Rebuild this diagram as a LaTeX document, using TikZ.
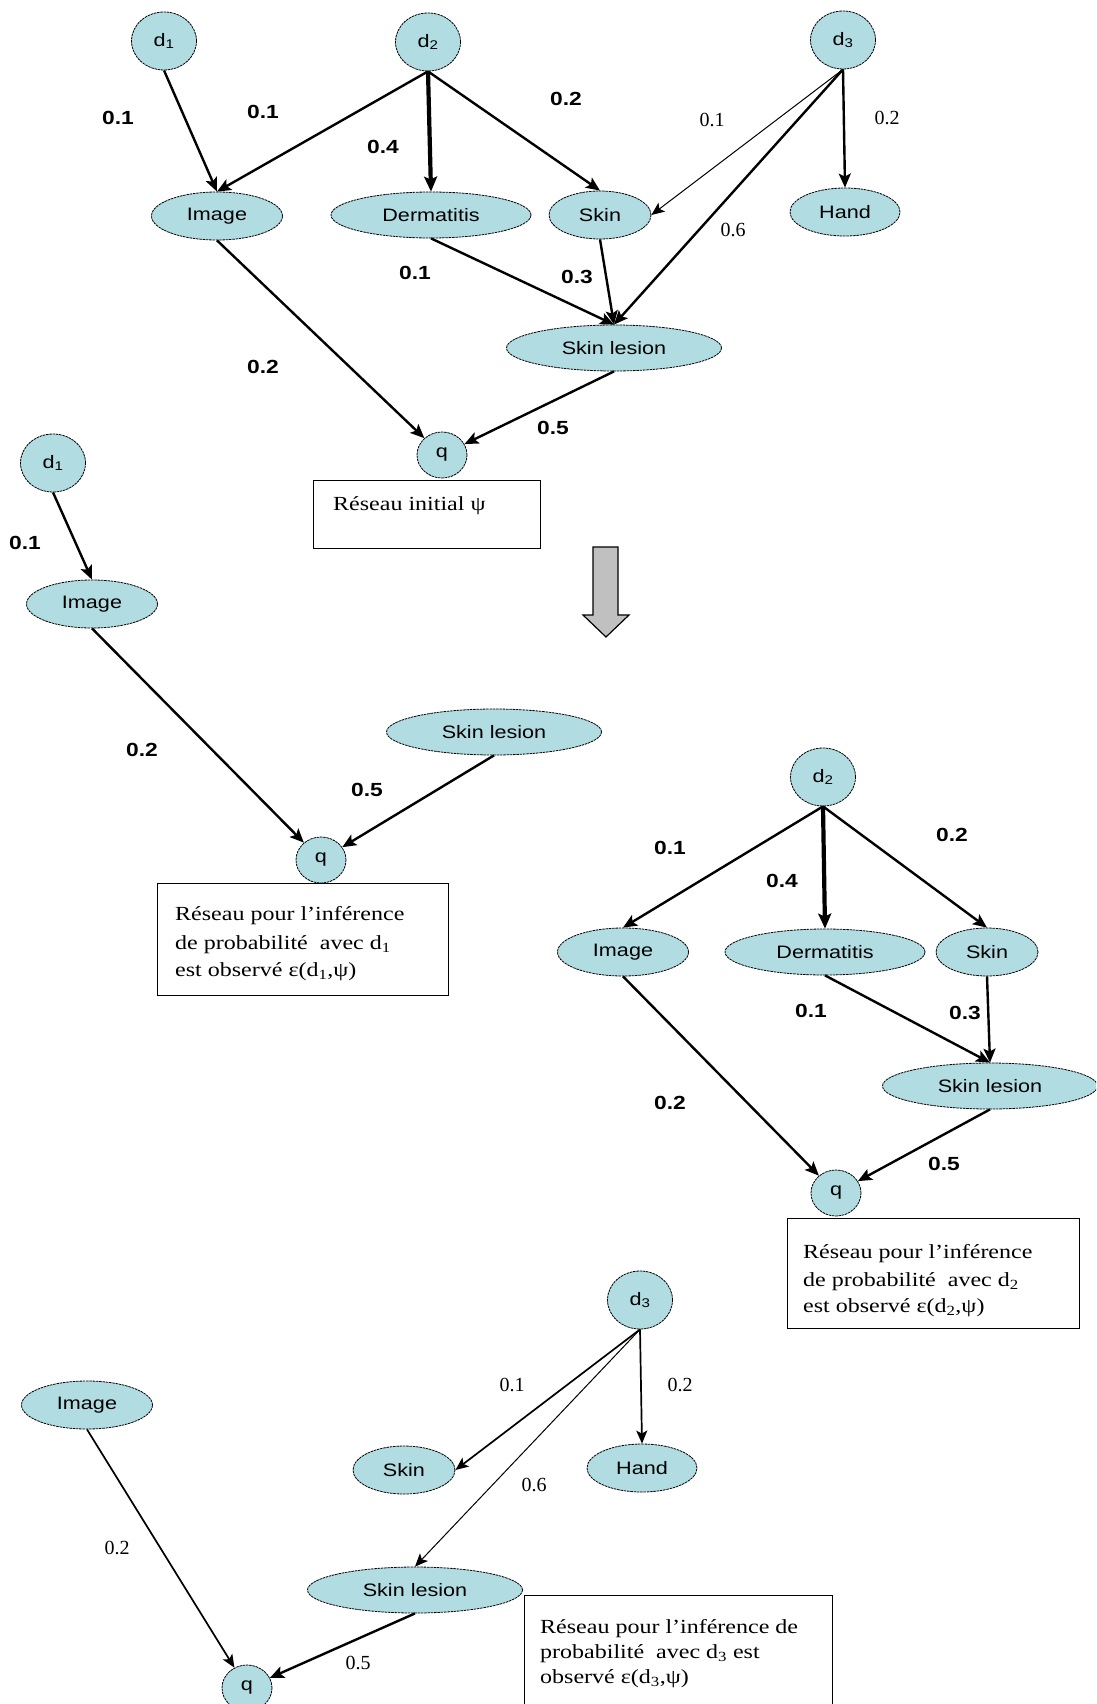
\documentclass[tikz,border=0pt]{standalone}
\usepackage{fontspec}
\setmainfont{Liberation Serif}
\setsansfont{Liberation Sans}
\newfontfamily\nodefont[FakeStretch=1.2]{Liberation Sans}
\newfontfamily\boxfont[FakeStretch=1.2]{Liberation Serif}
\newfontfamily\serlabfont{Liberation Serif}
\usetikzlibrary{shapes.geometric,arrows.meta}
\definecolor{nodefill}{RGB}{176,220,226}
\definecolor{arrowgrey}{RGB}{192,192,192}
\tikzset{
 nd/.style={ellipse, draw=black, line width=0.8pt, dash pattern=on 2.5pt off 0.8pt, fill=nodefill, inner sep=0pt, font=\nodefont\fontsize{18}{20}\selectfont},
 dnode/.style={nd, minimum width=65, minimum height=58},
 qnode/.style={nd, minimum width=50, minimum height=46},
 imgnode/.style={nd, minimum width=131, minimum height=48},
 dermnode/.style={nd, minimum width=200, minimum height=46},
 skinnode/.style={nd, minimum width=102, minimum height=48},
 handnode/.style={nd, minimum width=110, minimum height=48},
 slnode/.style={nd, minimum width=215, minimum height=46},
 lab/.style={font=\nodefont\bfseries\fontsize{19}{21}\selectfont, inner sep=0pt},
 slab/.style={font=\serlabfont\fontsize{20}{22}\selectfont, inner sep=0pt},
 ar/.style={-{Stealth[length=14pt,width=12pt,inset=3pt]}, line width=2.4pt},
 arthick/.style={-{Stealth[length=15pt,width=13pt,inset=3pt]}, line width=4.2pt},
 arthin/.style={-{Stealth[length=13pt,width=11pt,inset=3pt]}, line width=1pt},
 armid/.style={-{Stealth[length=13pt,width=11pt,inset=3pt]}, line width=1.7pt},
 boxr/.style={draw=black, line width=1.2pt, fill=white, inner sep=0pt, anchor=north west},
 btext/.style={font=\boxfont\fontsize{20}{24}\selectfont, inner sep=0pt, anchor=west, text height=14pt, text depth=4pt},
}
\begin{document}
\begin{tikzpicture}[x=1pt,y=-1pt]
\useasboundingbox (0,0) rectangle (1096,1704);
\fill[white] (0,0) rectangle (1096,1704);
\clip (0,0) rectangle (1096,1704);

% ---------- boxes (drawn first) ----------
\node[boxr, minimum width=227, minimum height=68] (box1) at (313,480) {};
\node[boxr, minimum width=291, minimum height=112] (box2) at (157,883) {};
\node[boxr, minimum width=292, minimum height=110] (box3) at (787,1218) {};
\node[boxr, minimum width=308, minimum height=140] (box4) at (524,1595) {};

\node[btext] (bt1) at (333,505) {Réseau initial ψ};

\node[btext] (bt2a) at (175,915) {Réseau pour l’inférence};
\node[btext] (bt2b) at (175,944) {de probabilité~ avec d\textsubscript{1}};
\node[btext] (bt2c) at (175,971) {est observé ε(d\textsubscript{1},ψ)};

\node[btext] (bt3a) at (803,1253) {Réseau pour l’inférence};
\node[btext] (bt3b) at (803,1281) {de probabilité~ avec d\textsubscript{2}};
\node[btext] (bt3c) at (803,1307) {est observé ε(d\textsubscript{2},ψ)};

\node[btext] (bt4a) at (540,1628) {Réseau pour l’inférence de};
\node[btext] (bt4b) at (540,1653) {probabilité~ avec d\textsubscript{3} est};
\node[btext] (bt4c) at (540,1678) {observé ε(d\textsubscript{3},ψ)};

% ---------- top: initial network ----------
\node[dnode] (d1) at (164,41) {d\textsubscript{1}};
\node[dnode] (d2) at (428,42) {d\textsubscript{2}};
\node[dnode] (d3) at (843,40) {d\textsubscript{3}};
\node[imgnode] (img1) at (217,216) {Image};
\node[dermnode] (derm1) at (431,215) {Dermatitis};
\node[skinnode] (skin1) at (600,215) {Skin};
\node[handnode] (hand1) at (845,212) {Hand};
\node[slnode] (sl1) at (614,348) {Skin lesion};
\node[qnode] (q1) at (442,455) {q};

\draw[ar] (d1.south) -- (img1.north);
\draw[ar] (d2.south) -- (img1.north);
\draw[arthick] (d2.south) -- (derm1.north);
\draw[ar] (d2.south) -- (skin1.north);
\draw[arthin] (d3.south) -- (skin1.east);
\draw[ar] (d3.south) -- (sl1.north);
\draw[ar] (d3.south) -- (hand1.north);
\draw[ar] (derm1.south) -- (sl1.north);
\draw[ar] (skin1.south) -- (sl1.north);
\draw[ar] (img1.south) -- (q1);
\draw[ar] (sl1.south) -- (q1);

\node[lab] (t01) at (118,118) {0.1};
\node[lab] (t02) at (263,112) {0.1};
\node[lab] (t03) at (383,147) {0.4};
\node[lab] (t04) at (566,99) {0.2};
\node[slab] (t05) at (712,120) {0.1};
\node[slab] (t06) at (887,118) {0.2};
\node[slab] (t07) at (733,230) {0.6};
\node[lab] (t08) at (415,273) {0.1};
\node[lab] (t09) at (577,277) {0.3};
\node[lab] (t10) at (263,367) {0.2};
\node[lab] (t11) at (553,428) {0.5};

% ---------- grey arrow ----------
\draw[fill=arrowgrey, line width=1.2pt, line join=miter]
  (593,547) -- (618,547) -- (618,615) -- (629,615) -- (606,637) -- (583,615) -- (593,615) -- cycle;

% ---------- middle left: d1 observed ----------
\node[dnode] (d1b) at (53,463) {d\textsubscript{1}};
\node[imgnode] (img2) at (92,604) {Image};
\node[slnode] (sl2) at (494,732) {Skin lesion};
\node[qnode] (q2) at (321,860) {q};

\draw[ar] (d1b.south) -- (img2.north);
\draw[ar] (img2.south) -- (q2);
\draw[ar] (sl2.south) -- (q2);

\node[lab] (u01) at (25,543) {0.1};
\node[lab] (u02) at (142,750) {0.2};
\node[lab] (u03) at (367,790) {0.5};

% ---------- right: d2 observed ----------
\node[dnode] (d2b) at (823,777) {d\textsubscript{2}};
\node[imgnode] (img3) at (623,952) {Image};
\node[dermnode] (derm3) at (825,952) {Dermatitis};
\node[skinnode] (skin3) at (987,952) {Skin};
\node[slnode] (sl3) at (990,1086) {Skin lesion};
\node[qnode] (q3) at (836,1193) {q};

\draw[ar] (d2b.south) -- (img3.north);
\draw[arthick] (d2b.south) -- (derm3.north);
\draw[ar] (d2b.south) -- (skin3.north);
\draw[ar] (derm3.south) -- (sl3.north);
\draw[ar] (skin3.south) -- (sl3.north);
\draw[ar] (img3.south) -- (q3);
\draw[ar] (sl3.south) -- (q3);

\node[lab] (v01) at (670,848) {0.1};
\node[lab] (v02) at (782,881) {0.4};
\node[lab] (v03) at (952,835) {0.2};
\node[lab] (v04) at (811,1011) {0.1};
\node[lab] (v05) at (965,1013) {0.3};
\node[lab] (v06) at (670,1103) {0.2};
\node[lab] (v07) at (944,1164) {0.5};

% ---------- bottom: d3 observed ----------
\node[dnode] (d3b) at (640,1300) {d\textsubscript{3}};
\node[imgnode] (img4) at (87,1405) {Image};
\node[skinnode] (skin4) at (404,1470) {Skin};
\node[handnode] (hand4) at (642,1468) {Hand};
\node[slnode] (sl4) at (415,1590) {Skin lesion};
\node[qnode] (q4) at (247,1688) {q};

\draw[armid] (d3b.south) -- (skin4.east);
\draw[arthin] (d3b.south) -- (sl4.north);
\draw[armid] (d3b.south) -- (hand4.north);
\draw[armid] (img4.south) -- (q4);
\draw[ar] (sl4.south) -- (q4);

\node[slab] (w01) at (512,1385) {0.1};
\node[slab] (w02) at (680,1385) {0.2};
\node[slab] (w03) at (534,1485) {0.6};
\node[slab] (w04) at (117,1548) {0.2};
\node[slab] (w05) at (358,1663) {0.5};
\end{tikzpicture}
\end{document}
